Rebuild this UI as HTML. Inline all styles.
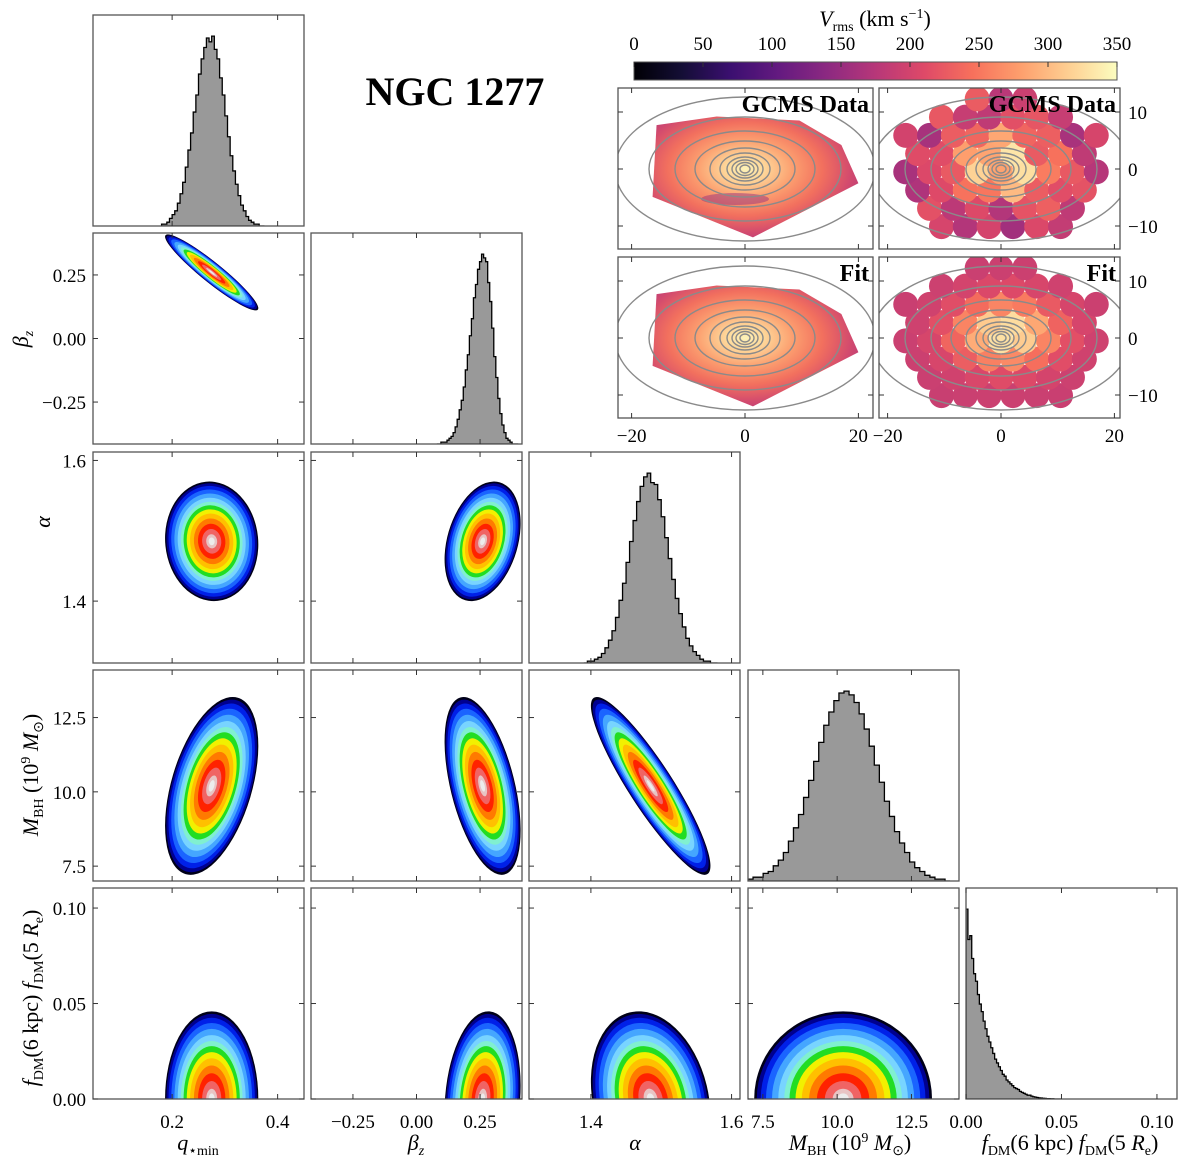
<!DOCTYPE html>
<html><head><meta charset="utf-8"><style>
html,body{margin:0;padding:0;background:#fff}
svg{display:block;font-family:"Liberation Serif",serif}
</style></head><body>
<svg id="fig" width="1200" height="1171" viewBox="0 0 1200 1171" xmlns="http://www.w3.org/2000/svg">
<defs>
<linearGradient id="cbar" x1="0" x2="1" y1="0" y2="0">
<stop offset="0" stop-color="#000004"/><stop offset="0.1" stop-color="#140e36"/><stop offset="0.2" stop-color="#3b0f70"/><stop offset="0.3" stop-color="#641a80"/><stop offset="0.4" stop-color="#8c2981"/><stop offset="0.5" stop-color="#b73779"/><stop offset="0.6" stop-color="#de4968"/><stop offset="0.7" stop-color="#f7705c"/><stop offset="0.8" stop-color="#fe9f6d"/><stop offset="0.9" stop-color="#fecf92"/><stop offset="1" stop-color="#fcfdbf"/>
</linearGradient>
</defs>
<g id="panels"></g>
<g id="maps"></g>
<text x="455" y="105" text-anchor="middle" font-size="40" font-weight="bold">NGC 1277</text>
</svg>
<script>
// ---------- data ----------
const paramNames = ["q_min","beta_z","alpha","M_BH","f_DM"];
const paramLo = [0.05,-0.415,1.312,7.0,0.0];
const paramHi = [0.45,0.415,1.612,14.1,0.1105];
const paramMean = [0.275,0.26,1.485,10.2,0.0];
const paramSd = [0.026,0.044,0.025,0.88,0.0135];
const corrRow0 = [1,-0.94,-0.05,0.45,0.0];
const corrRow1 = [-0.94,1,0.3,-0.5,0.15];
const corrRow2 = [-0.05,0.3,1,-0.9,-0.2];
const corrRow3 = [0.45,-0.5,-0.9,1,0.0];
const corrRow4 = [0.0,0.15,-0.2,0.0,1];
const corr = [corrRow0,corrRow1,corrRow2,corrRow3,corrRow4];

const histLo = [0.18,0.08,1.39,7.0,0.0];
const histW = [0.005,0.008,0.005,0.17,0.001];
const histQ = [1,1,2,4,6,8,12,17,23,31,40,49,60,69,80,88,94,99,97,100,93,88,78,69,58,47,37,29,22,16,11,8,5,3,2,1,1,0,0];
const histBeta = [0,0,1,1,1,2,3,4,6,9,13,18,23,30,39,47,57,66,77,84,92,96,100,98,96,85,75,61,46,35,24,16,10,6,3,2,1,0,0,0];
const histAlpha = [0,1,1,2,3,5,8,12,17,24,33,42,53,64,75,85,93,98,100,95,94,86,77,66,55,44,34,26,19,13,9,6,4,2,1,1,0,0];
const histM = [1,2,2,4,5,8,11,15,21,28,35,44,53,63,73,82,89,95,99,100,98,94,88,80,71,61,52,42,34,26,20,15,10,7,5,3,2,1,1,0];
const histF = [100,84,86,74,66,62,55,50,46,41,37,33,30,27,24,21,19,17,15,13,12,10,9,8,7,6,5.5,5,4,3.5,3,2.5,2,2,1.5,1.2,1,0.8,0.6,0.5,0.4,0.3,0.2,0.2,0.1,0.1,0,0,0,0];
const hists = [histQ,histBeta,histAlpha,histM,histF];

const xTicks = [[0.2,0.4],[-0.25,0,0.25],[1.4,1.6],[7.5,10,12.5],[0,0.05,0.1]];
const xTickLabels = [["0.2","0.4"],["\u22120.25","0.00","0.25"],["1.4","1.6"],["7.5","10.0","12.5"],["0.00","0.05","0.10"]];

const levelR = [3.4,3.3,3.15,2.95,2.72,2.48,2.25,2.05,1.82,1.58,1.3,1.0,0.7,0.4];
const levelC = ["#000018","#000090","#0020e8","#1a64ff","#45a6ff","#78d4ff","#80f0d0","#22dd22","#f2f000","#ffc000","#ff7a00","#ff2200","#f06464","#e8c4c4"];

const cbTicks = [0,50,100,150,200,250,300,350];
const mapXTicks = [-20,0,20];
const mapYTicks = [10,0,-10];
const binPerturb = [12,-20,8,-35,15,-5,25,-18,4,-40,10,30,-12,-25,6,18,-8,35,-15,0,22,-30,5,-10,28,-45,14,-6,9,-22,16,-3,20,-28,7,-60];

// ---------- layout ----------
const NS="http://www.w3.org/2000/svg";
const cols=[93,311,529,748,966], rows=[15,233,452,670,888], S=211;
const gP=document.getElementById('panels'), gM=document.getElementById('maps');
function mk(tag,attrs,parent){const e=document.createElementNS(NS,tag);for(const k in attrs)e.setAttribute(k,attrs[k]);(parent||gP).appendChild(e);return e;}
function sx(i,v){return cols[i]+(v-paramLo[i])/(paramHi[i]-paramLo[i])*S;}
function sy(j,v){return rows[j]+S-(v-paramLo[j])/(paramHi[j]-paramLo[j])*S;}
const defs=document.querySelector('defs');

for(let j=0;j<5;j++){for(let i=0;i<=j;i++){
  const x0=cols[i], y0=rows[j];
  const cp=mk('clipPath',{id:'cp'+i+j},defs); mk('rect',{x:x0,y:y0,width:S,height:S},cp);
  const g=mk('g',{'clip-path':'url(#cp'+i+j+')'});
  if(i===j){
    
    
    const h=hists[i]; const mx=Math.max(...h)/0.9;
    let d='M'+sx(i,histLo[i])+','+(y0+S);
    h.forEach((c,k)=>{const xa=sx(i,histLo[i]+k*histW[i]), xb=sx(i,histLo[i]+(k+1)*histW[i]); const yy=y0+S-c/mx*S; d+=' L'+xa+','+yy+' L'+xb+','+yy;});
    d+=' L'+sx(i,histLo[i]+h.length*histW[i])+','+(y0+S)+' Z';
    const p=mk('path',{d:d,fill:'#999999',stroke:'#000','stroke-width':1.3},g);
    
    
  } else {
    
    
    const a=paramSd[i]*S/(paramHi[i]-paramLo[i]), b=paramSd[j]*S/(paramHi[j]-paramLo[j]);
    const r=corr[i][j]; const c=-r*a*b;
    const t=(a*a+b*b)/2, dd=Math.sqrt(((a*a-b*b)/2)**2+c*c);
    const l1=t+dd, l2=Math.max(t-dd,0.01);
    const ang=0.5*Math.atan2(2*c,a*a-b*b)*180/Math.PI;
    const cx=sx(i,paramMean[i]), cy=sy(j,paramMean[j]);
    levelR.forEach((k,n)=>{
      const e=mk('ellipse',{cx:cx,cy:cy,rx:Math.sqrt(l1)*k,ry:Math.sqrt(l2)*k,fill:levelC[n],transform:'rotate('+ang+' '+cx+' '+cy+')'},g);
      
      
    });
    mk('ellipse',{cx:cx,cy:cy,rx:Math.sqrt(l1)*0.22,ry:Math.sqrt(l2)*0.22,fill:'#ececec',transform:'rotate('+ang+' '+cx+' '+cy+')'},g);
  }
  const fr=mk('rect',{x:x0,y:y0,width:S,height:S,fill:'none',stroke:'#555','stroke-width':1.3});
  
  
  xTicks[i].forEach(v=>{const X=sx(i,v);mk('line',{x1:X,x2:X,y1:y0+S,y2:y0+S-5,stroke:'#333'});mk('line',{x1:X,x2:X,y1:y0,y2:y0+5,stroke:'#333'});});
  if(i!==j){xTicks[j].forEach(v=>{const Y=sy(j,v);mk('line',{x1:x0,x2:x0+5,y1:Y,y2:Y,stroke:'#333'});mk('line',{x1:x0+S,x2:x0+S-5,y1:Y,y2:Y,stroke:'#333'});});}
  if(j===4){xTicks[i].forEach((v,k)=>{const t=mk('text',{x:sx(i,v),y:1128,'text-anchor':'middle','font-size':19});t.textContent=xTickLabels[i][k];
    
    });}
  if(i===0&&j>0){xTicks[j].forEach((v,k)=>{const t=mk('text',{x:86,y:sy(j,v)+7,'text-anchor':'end','font-size':19});t.textContent=xTickLabels[j][k];
    
    });}
}}

function lab(html,x,y,rot,name){const t=mk('text',{x:x,y:y,'text-anchor':'middle','font-size':22,transform:rot?'rotate(-90 '+x+' '+y+')':''});t.innerHTML=html;return t;}
lab('<tspan font-style="italic">q</tspan><tspan font-size="14" dy="5">\u22c6min</tspan>',198,1150,false,'x-axis-title-q');
lab('<tspan font-style="italic">β</tspan><tspan font-size="14" dy="5" font-style="italic">z</tspan>',416,1150,false,'x-axis-title-beta');
lab('<tspan font-style="italic">α</tspan>',635,1150,false,'x-axis-title-alpha');
lab('<tspan font-style="italic">M</tspan><tspan font-size="14" dy="5">BH</tspan><tspan dy="-5"> (10</tspan><tspan font-size="14" dy="-8">9</tspan><tspan dy="8" font-style="italic"> M</tspan><tspan font-size="14" dy="5">⊙</tspan><tspan dy="-5">)</tspan>',850,1150,false,'x-axis-title-mbh');
lab('<tspan font-style="italic">f</tspan><tspan font-size="14" dy="5">DM</tspan><tspan dy="-5">(6 kpc)  </tspan><tspan font-style="italic">f</tspan><tspan font-size="14" dy="5">DM</tspan><tspan dy="-5">(5 </tspan><tspan font-style="italic">R</tspan><tspan font-size="14" dy="5">e</tspan><tspan dy="-5">)</tspan>',1070,1150,false,'x-axis-title-fdm');
lab('<tspan font-style="italic">β</tspan><tspan font-size="14" dy="5" font-style="italic">z</tspan>',28,339,true,'y-axis-title-beta');
lab('<tspan font-style="italic">α</tspan>',50,522,true,'y-axis-title-alpha');
lab('<tspan font-style="italic">M</tspan><tspan font-size="14" dy="5">BH</tspan><tspan dy="-5"> (10</tspan><tspan font-size="14" dy="-8">9</tspan><tspan dy="8" font-style="italic"> M</tspan><tspan font-size="14" dy="5">⊙</tspan><tspan dy="-5">)</tspan>',38,775,true,'y-axis-title-mbh');
lab('<tspan font-style="italic">f</tspan><tspan font-size="14" dy="5">DM</tspan><tspan dy="-5">(6 kpc)  </tspan><tspan font-style="italic">f</tspan><tspan font-size="14" dy="5">DM</tspan><tspan dy="-5">(5 </tspan><tspan font-style="italic">R</tspan><tspan font-size="14" dy="5">e</tspan><tspan dy="-5">)</tspan>',38,998,true,'y-axis-title-fdm');

// ---------- maps ----------
const cbX0=634, cbX1=1117;
const cbr=mk('rect',{x:cbX0,y:62,width:cbX1-cbX0,height:18,fill:'url(#cbar)',stroke:'#555'},gM);


cbTicks.forEach(v=>{const X=cbX0+v/350*(cbX1-cbX0);mk('line',{x1:X,x2:X,y1:62,y2:67,stroke:'#333'},gM);
  const t=mk('text',{x:X,y:50,'text-anchor':'middle','font-size':19},gM);t.textContent=v;
  
  });
const cbt=mk('text',{x:875,y:26,'text-anchor':'middle','font-size':22},gM);
cbt.innerHTML='<tspan font-style="italic">V</tspan><tspan font-size="14" dy="5">rms</tspan><tspan dy="-5"> (km s</tspan><tspan font-size="14" dy="-8">\u22121</tspan><tspan dy="8">)</tspan>';



function magma(t){const st=["#000004","#140e36","#3b0f70","#641a80","#8c2981","#b73779","#de4968","#f7705c","#fe9f6d","#fecf92","#fcfdbf"];
  t=Math.max(0,Math.min(1,t))*10;const k=Math.min(9,Math.floor(t)),f=t-k;
  const a=st[k],b=st[k+1];const p=(h,i)=>parseInt(h.substr(1+2*i,2),16);
  return 'rgb('+[0,1,2].map(i=>Math.round(p(a,i)+(p(b,i)-p(a,i))*f)).join(',')+')';}

const mapPanels=[{x:618,y:88,name:'data-interp',label:'GCMS Data'},{x:879,y:88,name:'data-bins',label:'GCMS Data'},{x:618,y:257,name:'fit-interp',label:'Fit'},{x:879,y:257,name:'fit-bins',label:'Fit'}];
const MW=255, MH=161, PXU=5.67, PYU=5.7;
const gradStops=[[0,"#fdf3b8"],[0.15,"#fed89a"],[0.38,"#fca070"],[0.62,"#f2705e"],[0.85,"#d24a6e"],[1,"#b83a78"]];
mapPanels.forEach((P,idx)=>{
  const cp=mk('clipPath',{id:'mcp'+idx},defs);mk('rect',{x:P.x,y:P.y,width:(idx%2?241:MW),height:MH},cp);
  const g=mk('g',{'clip-path':'url(#mcp'+idx+')'},gM);
  
  
  const W=(idx%2?241:MW);
  const cx=P.x+(idx%2?122:127), cy=P.y+81;
  if(idx%2===0){
    const rg=mk('radialGradient',{id:'mg'+idx,cx:cx,cy:cy,r:125,gradientUnits:'userSpaceOnUse',gradientTransform:'translate('+cx+' '+cy+') scale(1 0.6) translate('+(-cx)+' '+(-cy)+')'},defs);
    gradStops.forEach(s=>mk('stop',{offset:s[0],'stop-color':s[1]},rg));
    const pts=[[-15.6,7.7],[-5,9.2],[9.6,8.5],[17,4.2],[20,-2.5],[1.4,-12],[-16.3,-4.9]];
    const poly=mk('polygon',{points:pts.map(p=>(cx+p[0]*PXU)+','+(cy-p[1]*PYU)).join(' '),fill:'url(#mg'+idx+')'},g);
    
    
    if(idx===0){
      const sp=mk('ellipse',{cx:cx-10,cy:cy+30,rx:34,ry:6,fill:'#8c2981',opacity:0.45},g);
      
      
    }
  } else {
    let n=0;
    for(let row=-4;row<=4;row++){
      const yy=row*3.2-0.5, off=(row%2?2.1:0);
      for(let col=-5;col<=5;col++){
        const xx=col*4.2+off;
        const rr=(xx/18.5)**2+(yy/12.5)**2;
        if(rr>1.05) continue;
        const er=Math.sqrt(((xx-1)/7)**2+((yy-1)/4.5)**2);
        let v=190+150*Math.exp(-er*er/1.6);
        if(idx===1){v+=binPerturb[n%binPerturb.length];}
        n++;
        const c=mk('circle',{cx:cx+xx*PXU,cy:cy-yy*PYU,r:12.5,fill:magma(v/350)},g);
        
        
      }
    }
  }
  const cr=[[5,4],[9,6.5],[13,9],[18,12],[25,16],[35,21],[50,28],[70,38],[96,52],[130,72]];
  cr.forEach(r=>{const e=mk('ellipse',{cx:cx,cy:cy,rx:r[0],ry:r[1],fill:'none',stroke:'#8a8a8a','stroke-width':1.4},g);
    
    });
  const fr=mk('rect',{x:P.x,y:P.y,width:W,height:MH,fill:'none',stroke:'#555','stroke-width':1.3},gM);
  
  
  const t=mk('text',{x:P.x+W-4,y:P.y+24,'text-anchor':'end','font-size':24,'font-weight':'bold'},gM);
  t.textContent=P.label;
  
  
  mapXTicks.forEach(v=>{const X=cx+v*PXU;mk('line',{x1:X,x2:X,y1:P.y+MH,y2:P.y+MH-5,stroke:'#333'},gM);mk('line',{x1:X,x2:X,y1:P.y,y2:P.y+5,stroke:'#333'},gM);
    if(idx>=2){const tl=mk('text',{x:X,y:442,'text-anchor':'middle','font-size':19},gM);tl.textContent=v<0?'\u2212'+(-v):v;
      
      }});
  mapYTicks.forEach(v=>{const Y=cy-v*PYU;mk('line',{x1:P.x,x2:P.x+5,y1:Y,y2:Y,stroke:'#333'},gM);mk('line',{x1:P.x+W,x2:P.x+W-5,y1:Y,y2:Y,stroke:'#333'},gM);
    if(idx%2===1){const tl=mk('text',{x:P.x+W+8,y:Y+7,'text-anchor':'start','font-size':19},gM);tl.textContent=v<0?'\u2212'+(-v):v;
      
      }});
});
</script>
</body></html>
